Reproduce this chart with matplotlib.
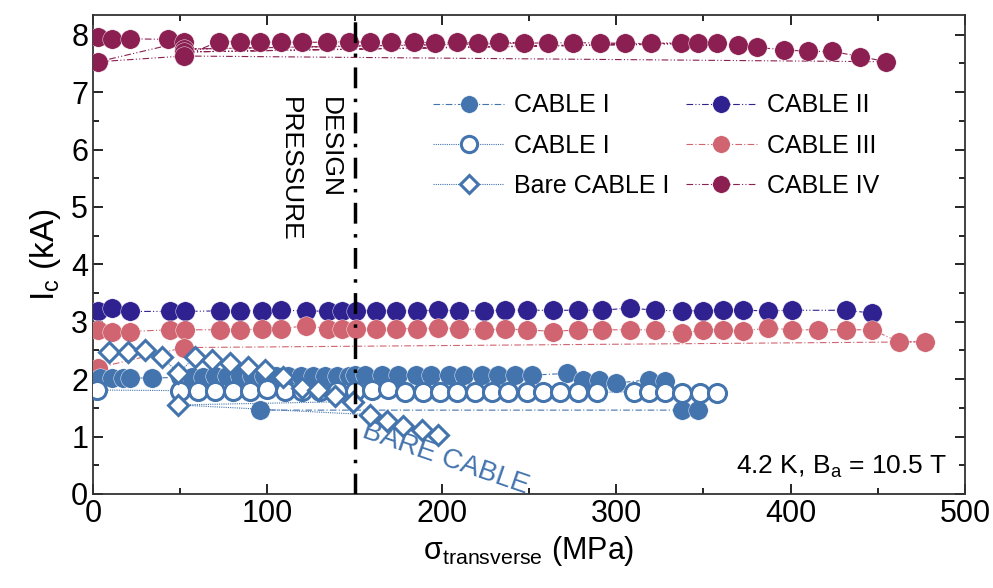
import numpy as np
import matplotlib
matplotlib.use('Agg')
import matplotlib.pyplot as plt
from matplotlib.ticker import MultipleLocator

plt.rcParams['font.family'] = ['Liberation Sans', 'DejaVu Sans']
plt.rcParams['mathtext.default'] = 'regular'

# CABLE I, filled circles
c1_x = [4, 11, 17, 21, 34, 50, 57, 63, 70, 77, 84, 91, 98, 105, 112, 119, 126, 133, 140, 147,
        150, 156, 166, 175, 185, 194, 204, 213, 223, 232, 242, 252, 272, 281, 290, 300, 319, 328,
        338, 347, 96]
c1_y = [2.02, 2.02, 2.02, 2.02, 2.02, 2.03, 2.04, 2.04, 2.05, 2.05, 2.05, 2.05, 2.05, 2.05, 2.05,
        2.05, 2.06, 2.06, 2.06, 2.06, 2.07, 2.07, 2.07, 2.07, 2.07, 2.07, 2.07, 2.07, 2.07, 2.07,
        2.07, 2.07, 2.10, 1.99, 1.99, 1.93, 1.99, 1.96, 1.46, 1.46, 1.46]

# CABLE I, open circles
c1o_x = [2, 50, 60, 70, 80, 90, 100, 110, 120, 130, 140, 150, 160, 169, 179, 189, 199, 209, 219,
         229, 238, 249, 258, 268, 278, 289, 310, 319, 328, 338, 348, 358]
c1o_y = [1.81, 1.80, 1.80, 1.80, 1.80, 1.80, 1.83, 1.80, 1.79, 1.79, 1.79, 1.79, 1.81, 1.82,
         1.77, 1.77, 1.77, 1.77, 1.77, 1.77, 1.77, 1.77, 1.77, 1.77, 1.77, 1.77, 1.78, 1.78,
         1.78, 1.75, 1.75, 1.75]

# Bare CABLE I, open diamonds
bare_x = [9, 20, 30, 39.5, 49, 58.5, 68, 78.6, 89, 98.6, 109, 119.6, 129, 138.8, 149, 49,
          158.8, 168.5, 177.8, 188.6, 197.8]
bare_y = [2.47, 2.47, 2.51, 2.39, 2.10, 2.39, 2.33, 2.28, 2.22, 2.16, 2.04, 1.84, 1.81, 1.70,
          1.61, 1.55, 1.38, 1.27, 1.19, 1.11, 1.02]

# CABLE II
c2_x = [3, 11, 21, 44, 53, 73, 84, 97, 108, 122, 135, 143, 151, 162, 174, 186, 198, 210, 224,
        236, 249, 264, 278, 292, 308, 322, 338, 350, 361, 373, 387, 401, 432, 447]
c2_y = [3.18, 3.24, 3.18, 3.18, 3.18, 3.19, 3.19, 3.19, 3.21, 3.18, 3.19, 3.19, 3.19, 3.19,
        3.19, 3.19, 3.20, 3.19, 3.19, 3.20, 3.20, 3.20, 3.20, 3.20, 3.24, 3.20, 3.19, 3.19,
        3.20, 3.20, 3.19, 3.20, 3.20, 3.15]

# CABLE III
c3_x = [3, 11, 21, 44, 53, 73, 84, 97, 108, 122, 135, 143, 151, 162, 174, 186, 198, 210, 224,
        236, 249, 264, 278, 292, 308, 322, 338, 350, 361, 373, 387, 401, 416, 432, 447, 462,
        477, 52, 3]
c3_y = [2.86, 2.83, 2.83, 2.86, 2.86, 2.86, 2.86, 2.87, 2.88, 2.93, 2.88, 2.88, 2.88, 2.87,
        2.88, 2.88, 2.89, 2.88, 2.86, 2.87, 2.86, 2.83, 2.86, 2.86, 2.86, 2.86, 2.80, 2.86,
        2.86, 2.84, 2.89, 2.86, 2.86, 2.86, 2.86, 2.65, 2.65, 2.55, 2.20]

# CABLE IV
c4_x = [3, 11, 21, 43, 52, 3, 52, 72, 84, 96, 108, 120, 134, 147, 159, 171, 184, 196, 209, 221,
        233, 247, 52, 261, 275, 291, 305, 320, 337, 347, 52, 358, 370, 381, 396, 410, 424, 440,
        455, 52]
c4_y = [7.96, 7.93, 7.93, 7.92, 7.88, 7.53, 7.63, 7.88, 7.88, 7.87, 7.87, 7.87, 7.87, 7.88,
        7.87, 7.87, 7.87, 7.86, 7.87, 7.86, 7.87, 7.86, 7.75, 7.86, 7.86, 7.86, 7.85, 7.85,
        7.86, 7.86, 7.70, 7.85, 7.82, 7.78, 7.74, 7.71, 7.71, 7.62, 7.53, 7.63]

blue = '#4474ae'
navy = '#2f2290'
pink = '#d06470'
plum = '#8b1f51'

fig = plt.figure(figsize=(9.93, 5.88), dpi=100)
ax = fig.add_axes([0.0937, 0.16, 0.878, 0.815])

ms = 14
ax.plot(c4_x, c4_y, color=plum, ls=(0, (6, 2, 1, 2, 1, 2)), lw=0.8, marker='o', ms=ms,
        mec='white', mew=0.3, label='CABLE IV', zorder=3)
ax.plot(c2_x, c2_y, color=navy, ls=(0, (6, 2, 1, 2, 1, 2)), lw=0.8, marker='o', ms=ms,
        mec='white', mew=0.3, label='CABLE II', zorder=3)
ax.plot(c3_x, c3_y, color=pink, ls=(0, (6, 2, 1, 2)), lw=0.8, marker='o', ms=ms,
        mec='white', mew=0.3, label='CABLE III', zorder=3)
ax.plot(c1_x, c1_y, color=blue, ls=(0, (6, 2, 1, 2)), lw=0.8, marker='o', ms=ms,
        mec='white', mew=0.3, label='CABLE I', zorder=4)
ax.plot(c1o_x, c1o_y, color=blue, ls=(0, (1, 1)), lw=0.8, marker='o', ms=ms - 1, mfc='white',
        mec=blue, mew=2.2, label='CABLE I', zorder=5)
ax.plot(bare_x, bare_y, color=blue, ls=(0, (1, 1)), lw=0.8, marker='D', ms=ms - 3.5,
        mfc='white', mec=blue, mew=2.2, label='Bare CABLE I', zorder=6)

ax.axvline(150, color='black', lw=2.5, ls=(0, (6, 3, 1, 3)), zorder=7)

ax.text(136, 6.92, 'DESIGN', rotation=270, ha='center', va='top', fontsize=19)
ax.text(113, 6.92, 'PRESSURE', rotation=270, ha='center', va='top', fontsize=19)
ax.text(202, 0.62, 'BARE CABLE', rotation=-19, ha='center', va='center', fontsize=20,
        color=blue)
ax.text(490, 0.35, r'4.2 K, B$_{a}$ = 10.5 T', ha='right', va='baseline', fontsize=19)

h, l = ax.get_legend_handles_labels()
order = [3, 4, 5, 1, 2, 0]
ax.legend([h[i] for i in order], [l[i] for i in order], ncol=2, frameon=False,
          loc='upper left', bbox_to_anchor=(0.364, 0.883), fontsize=18, handlelength=2.85,
          handletextpad=0.4, columnspacing=0.65, labelspacing=0.65, markerscale=0.9)

ax.set_xlim(0, 500)
ax.set_ylim(0, 8.35)
ax.xaxis.set_major_locator(MultipleLocator(100))
ax.xaxis.set_minor_locator(MultipleLocator(50))
ax.yaxis.set_major_locator(MultipleLocator(1))
ax.yaxis.set_minor_locator(MultipleLocator(0.5))
ax.tick_params(which='both', direction='in', top=True, right=True, labelsize=22, width=1.2)
ax.tick_params(which='major', length=7)
ax.tick_params(which='minor', length=4)
for s in ax.spines.values():
    s.set_linewidth(1.3)
    s.set_color('#333333')

ax.set_xlabel(r'$\sigma_{transverse}$ (MPa)', fontsize=22, labelpad=4)
ax.set_ylabel(r'I$_{c}$ (kA)', fontsize=24, labelpad=6)

fig.savefig('out.png', dpi=100)
